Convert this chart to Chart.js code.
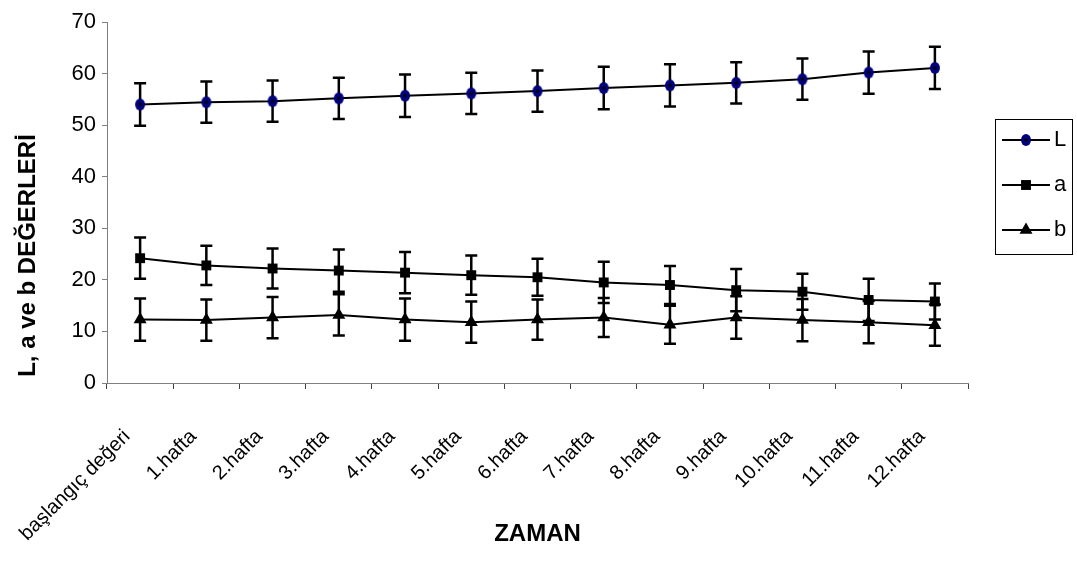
<!DOCTYPE html>
<html lang="tr">
<head>
    <meta charset="UTF-8">
    <title>L, a ve b değerleri</title>
    <style>
        body { margin: 0; background: #ffffff; }
        .chart-container { width: 1077px; height: 563px; position: relative; }
    </style>
</head>
<body>
    <div class="chart-container">
        <canvas id="labChart"></canvas>
    </div>

    <script src="https://cdn.jsdelivr.net/npm/chart.js"></script>
    <script>
        // Data
        const categories = ['başlangıç değeri', '1.hafta', '2.hafta', '3.hafta', '4.hafta', '5.hafta', '6.hafta',
            '7.hafta', '8.hafta', '9.hafta', '10.hafta', '11.hafta', '12.hafta'];
        const valuesL = [54.0, 54.45, 54.65, 55.2, 55.7, 56.15, 56.6, 57.2, 57.7, 58.2, 58.9, 60.2, 61.1];
        const errorsL = [4.1, 4.0, 4.0, 4.0, 4.1, 4.0, 4.0, 4.1, 4.1, 4.0, 4.0, 4.1, 4.1];
        const valuesA = [24.2, 22.8, 22.2, 21.8, 21.4, 20.9, 20.5, 19.5, 19.0, 18.0, 17.7, 16.1, 15.8];
        const errorsA = [4.0, 3.8, 3.9, 4.1, 4.0, 3.8, 3.6, 4.0, 3.7, 4.1, 3.5, 4.1, 3.5];
        const valuesB = [12.3, 12.2, 12.7, 13.2, 12.3, 11.8, 12.3, 12.7, 11.3, 12.7, 12.2, 11.8, 11.2];
        const errorsB = [4.1, 4.0, 4.0, 4.0, 4.1, 4.0, 3.9, 3.8, 3.7, 4.1, 4.1, 4.1, 4.0];
        const yMin = 0, yMax = 70, yStep = 10;

        const FONT = "'Liberation Sans', Arial, sans-serif";

        // navy circle marker with a small black centre
        function makeCircleMarker() {
            const c = document.createElement('canvas');
            c.width = 12; c.height = 14;
            const g = c.getContext('2d');
            g.fillStyle = '#000080';
            g.beginPath();
            g.ellipse(6, 7, 5, 6, 0, 0, Math.PI * 2);
            g.fill();
            g.fillStyle = '#000000';
            g.beginPath();
            g.arc(6, 7, 1.8, 0, Math.PI * 2);
            g.fill();
            return c;
        }
        const circleMarker = makeCircleMarker();

        // vertical error bars from each dataset's errors array
        const errorBars = {
            id: 'errorBars',
            beforeDatasetsDraw(chart) {
                const ctx = chart.ctx;
                const y = chart.scales.y;
                ctx.save();
                ctx.strokeStyle = '#000000';
                ctx.lineWidth = 2.5;
                chart.data.datasets.forEach((ds, i) => {
                    chart.getDatasetMeta(i).data.forEach((pt, j) => {
                        const top = y.getPixelForValue(ds.data[j] + ds.errors[j]);
                        const bot = y.getPixelForValue(ds.data[j] - ds.errors[j]);
                        ctx.beginPath();
                        ctx.moveTo(pt.x, top); ctx.lineTo(pt.x, bot);
                        ctx.moveTo(pt.x - 6, top); ctx.lineTo(pt.x + 6, top);
                        ctx.moveTo(pt.x - 6, bot); ctx.lineTo(pt.x + 6, bot);
                        ctx.stroke();
                    });
                });
                ctx.restore();
            }
        };

        // boxed legend on the right, line through marker
        const boxLegend = {
            id: 'boxLegend',
            afterDraw(chart) {
                const ctx = chart.ctx;
                const left = 995, top = 119, w = 77, h = 135;
                ctx.save();
                ctx.strokeStyle = '#000000';
                ctx.lineWidth = 1;
                ctx.strokeRect(left + 0.5, top + 0.5, w, h);
                chart.data.datasets.forEach((ds, i) => {
                    const cy = top + 21 + i * 45;
                    ctx.strokeStyle = '#000000';
                    ctx.lineWidth = 2;
                    ctx.beginPath();
                    ctx.moveTo(left + 7, cy); ctx.lineTo(left + 55, cy);
                    ctx.stroke();
                    Chart.helpers.drawPoint(ctx, {
                        pointStyle: ds.pointStyle, radius: ds.pointRadius, rotation: 0, borderWidth: 0
                    }, left + 31, cy);
                    ctx.fillStyle = '#000000';
                    ctx.font = "22px " + FONT;
                    ctx.textAlign = 'left';
                    ctx.textBaseline = 'middle';
                    ctx.fillText(ds.label, left + 59, cy);
                });
                ctx.restore();
            }
        };

        // y axis title, sits a bit below the plot centre
        const yTitle = {
            id: 'yTitle',
            afterDraw(chart) {
                const ctx = chart.ctx;
                const area = chart.chartArea;
                ctx.save();
                ctx.translate(28, (area.top + area.bottom) / 2 + 53);
                ctx.rotate(-Math.PI / 2);
                ctx.font = "bold 24px " + FONT;
                ctx.fillStyle = '#000000';
                ctx.textAlign = 'center';
                ctx.textBaseline = 'middle';
                ctx.fillText('L, a ve b DEĞERLERİ', 0, 0);
                ctx.restore();
            }
        };

        const ctx = document.getElementById('labChart').getContext('2d');
        const labChart = new Chart(ctx, {
            type: 'line',
            data: {
                labels: categories,
                datasets: [
                    { label: 'L', data: valuesL, errors: errorsL, borderColor: '#000000', borderWidth: 2,
                      pointStyle: circleMarker, pointRadius: 6, pointBackgroundColor: '#000080' },
                    { label: 'a', data: valuesA, errors: errorsA, borderColor: '#000000', borderWidth: 2,
                      pointStyle: 'rect', pointRadius: 7, pointBorderWidth: 0, pointBackgroundColor: '#000000' },
                    { label: 'b', data: valuesB, errors: errorsB, borderColor: '#000000', borderWidth: 2,
                      pointStyle: 'triangle', pointRadius: 7.5, pointBorderWidth: 0, pointBackgroundColor: '#000000' }
                ]
            },
            options: {
                responsive: true,
                maintainAspectRatio: false,
                animation: false,
                layout: { padding: { left: 0, top: 22, right: 109, bottom: 0 } },
                plugins: { legend: { display: false }, tooltip: { enabled: false } },
                elements: { line: { tension: 0 } },
                scales: {
                    x: {
                        offset: true,
                        grid: { offset: true, drawOnChartArea: false, drawTicks: true, tickLength: 6, color: '#404040' },
                        border: { color: '#808080', width: 1 },
                        ticks: { minRotation: 45, maxRotation: 45, autoSkip: false, padding: 36, labelOffset: -13,
                                 color: '#000000', font: { family: FONT, size: 20 } },
                        title: { display: true, text: 'ZAMAN', color: '#000000', padding: { top: 4, bottom: 14 },
                                 font: { family: FONT, size: 24, weight: 'bold' } },
                        afterFit(scale) { scale.height = 180; scale.paddingLeft = 0; scale.paddingRight = 0; }
                    },
                    y: {
                        min: yMin, max: yMax,
                        grid: { drawOnChartArea: false, drawTicks: true, tickLength: 5, color: '#808080' },
                        border: { color: '#808080', width: 1 },
                        ticks: { stepSize: yStep, padding: 6, color: '#000000', font: { family: FONT, size: 22 } },
                        afterFit(scale) { scale.width = 107; }
                    }
                }
            },
            plugins: [errorBars, boxLegend, yTitle]
        });
    </script>
</body>
</html>
